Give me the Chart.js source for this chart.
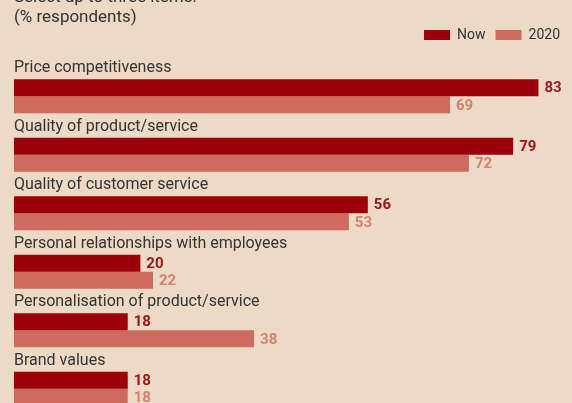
<!DOCTYPE html>
<html>
<head>
<meta charset="utf-8">
<script src="https://cdn.jsdelivr.net/npm/chart.js@4.4.0/dist/chart.umd.min.js"></script>
<style>
  html, body { margin: 0; padding: 0; background: #ecdac6; overflow: hidden; }
  #wrap { position: relative; width: 572px; height: 403px; overflow: hidden; }
  #grafico { position: absolute; left: 0; top: 0; }
  .titulo {
    position: absolute; left: 14px; top: -14px;
    font-family: Roboto, sans-serif; font-size: 17px; line-height: 20px; color: #333;
  }
</style>
</head>
<body>
<div id="wrap">
  <canvas id="grafico" width="572" height="420"></canvas>
  <div class="titulo">Select up to three items:<br>(% respondents)</div>
</div>
<script>
const categorias = [
  'Price competitiveness',
  'Quality of product/service',
  'Quality of customer service',
  'Personal relationships with employees',
  'Personalisation of product/service',
  'Brand values'
];
const series = ['Now', '2020'];
const valoresNow = [83, 79, 56, 20, 18, 18];
const valores2020 = [69, 72, 53, 22, 38, 18];

const coloresBarra = ['#9c000b', '#cc6b5e'];
const coloresTexto = ['#a3141c', '#d7806f'];

// nombres de categoria encima de cada grupo y valores al final de cada barra
const etiquetasPlugin = {
  id: 'etiquetas',
  afterDatasetsDraw(chart) {
    const ctx = chart.ctx;
    ctx.save();

    ctx.font = '16px Roboto';
    ctx.fillStyle = '#333';
    ctx.textBaseline = 'alphabetic';
    ctx.textAlign = 'left';
    chart.getDatasetMeta(0).data.forEach((bar, i) => {
      const top = bar.y - bar.height / 2;
      ctx.fillText(categorias[i], chart.chartArea.left, top - 7);
    });

    ctx.font = 'bold 15px Roboto';
    ctx.textBaseline = 'middle';
    chart.data.datasets.forEach((ds, d) => {
      ctx.fillStyle = coloresTexto[d];
      chart.getDatasetMeta(d).data.forEach((bar, i) => {
        ctx.fillText(ds.data[i], bar.x + 6, bar.y + 1);
      });
    });

    ctx.restore();
  }
};

const ctx = document.getElementById('grafico').getContext('2d');

const myChart = new Chart(ctx, {
  type: 'bar',
  data: {
    labels: categorias,
    datasets: [
      {
        label: series[0],
        data: valoresNow,
        backgroundColor: coloresBarra[0],
        borderWidth: 0,
        categoryPercentage: 0.582,
        barPercentage: 1
      },
      {
        label: series[1],
        data: valores2020,
        backgroundColor: coloresBarra[1],
        borderWidth: 0,
        categoryPercentage: 0.582,
        barPercentage: 1
      }
    ]
  },
  options: {
    indexAxis: 'y',
    responsive: false,
    animation: false,
    layout: {
      padding: { left: 14, right: 2, top: 18, bottom: 2 }
    },
    scales: {
      x: {
        position: 'top',
        min: 0,
        max: 88,
        grid: { display: false },
        border: { display: false },
        ticks: { display: false },
        afterFit: function (scale) {
          scale.height = 15;
        }
      },
      y: {
        display: false
      }
    },
    plugins: {
      tooltip: { enabled: false },
      legend: {
        position: 'top',
        align: 'end',
        labels: {
          boxWidth: 26,
          boxHeight: 10,
          padding: 10,
          color: '#333',
          font: { family: 'Roboto', size: 14 }
        }
      }
    }
  },
  plugins: [etiquetasPlugin]
});
</script>
</body>
</html>
